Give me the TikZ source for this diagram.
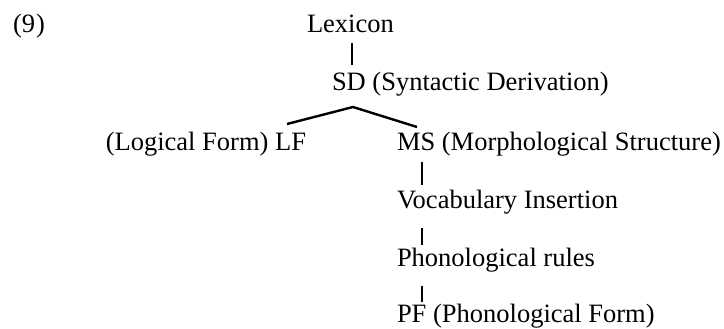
\documentclass[tikz,border=0pt]{standalone}
\usepackage{fontspec}
\setmainfont{Liberation Serif}
\usetikzlibrary{calc}
\begin{document}
\begin{tikzpicture}[x=1pt,y=-1pt,
  lbl/.style={inner sep=0pt,outer sep=0pt,anchor=base west,font=\fontsize{26.5}{30}\selectfont},
  conn/.style={line width=2.4pt,line cap=butt}]
\useasboundingbox (0,0) rectangle (724,329);
\node[lbl] (num) at (13,33) {(9\kern1pt)};
\node[lbl] (lex) at (307,33) {Lexicon};
\node[lbl] (sd) at (332,91) {SD (Syntactic Derivation)};
\node[lbl,anchor=base east] (lf) at (306,150) {(Logical Form) LF};
\node[lbl] (ms) at (397,150) {MS (Morphological Structure)};
\node[lbl] (vi) at (397,208) {Vocabulary Insertion};
\node[lbl] (pr) at (397,266) {Phonological rules};
\node[lbl] (pf) at (397,322) {PF (Phonological Form)};
\draw[conn] ($(lex.base west)+(45,10)$) -- ($(sd.base west)+(20,-26)$);
\draw[conn] ($(lf.base east)+(-19,-26)$) -- ($(sd.base west)+(21,16)$) -- ($(ms.base west)+(20,-23)$);
\draw[conn] ($(ms.base west)+(25,12)$) -- ($(vi.base west)+(25,-23)$);
\draw[conn] ($(vi.base west)+(25,20)$) -- ($(pr.base west)+(25,-21)$);
\draw[conn] ($(pr.base west)+(25,20)$) -- ($(pf.base west)+(25,-20)$);
\end{tikzpicture}
\end{document}
